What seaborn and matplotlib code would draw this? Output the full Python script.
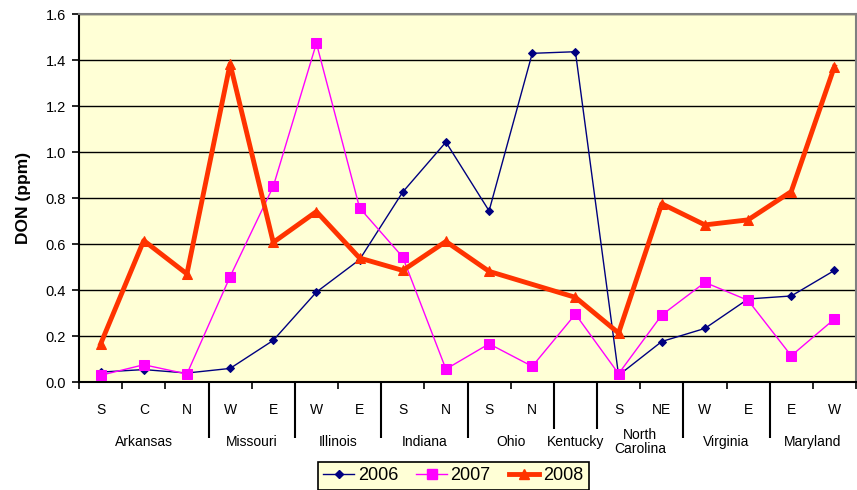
import numpy as np
import pandas as pd
import matplotlib
matplotlib.use("Agg")
import matplotlib.pyplot as plt
import matplotlib.transforms as mtransforms
import seaborn as sns

# ---- data ----
sites = ["S", "C", "N", "W", "E", "W", "E", "S", "N", "S", "N", "", "S", "NE", "W", "E", "E", "W"]
states = ["Arkansas", "Missouri", "Illinois", "Indiana", "Ohio", "Kentucky",
          "North\nCarolina", "Virginia", "Maryland"]
state_sizes = [3, 2, 2, 2, 2, 1, 2, 2, 2]
years = ["2006", "2007", "2008"]
don_2006 = [0.043, 0.054, 0.039, 0.059, 0.181, 0.391, 0.532, 0.826, 1.043, 0.744,
            1.429, 1.436, 0.029, 0.176, 0.233, 0.361, 0.374, 0.485]
don_2007 = [0.029, 0.075, 0.035, 0.458, 0.850, 1.473, 0.757, 0.543, 0.056, 0.166,
            0.068, 0.295, 0.036, 0.291, 0.433, 0.355, 0.114, 0.274]
don_2008 = [0.165, 0.615, 0.470, 1.383, 0.607, 0.741, 0.539, 0.485, 0.611, 0.481,
            np.nan, 0.368, 0.213, 0.775, 0.683, 0.705, 0.828, 1.371]
y_ticks = [0.0, 0.2, 0.4, 0.6, 0.8, 1.0, 1.2, 1.4, 1.6]

series = {"2006": don_2006, "2007": don_2007, "2008": don_2008}
frames = []
for yr in years:
    frames.append(pd.DataFrame({"pos": np.arange(len(sites)), "DON": series[yr], "year": yr}))
df = pd.concat(frames, ignore_index=True).dropna()

styles = {
    "2006": dict(color="#000080", marker="D", markersize=4.5, linewidth=1.0),
    "2007": dict(color="#FF00FF", marker="s", markersize=6.5, linewidth=1.0),
    "2008": dict(color="#FF3300", marker="^", markersize=7, linewidth=3.5),
}

plt.rcParams["font.family"] = ["Liberation Sans", "DejaVu Sans"]
fig = plt.figure(figsize=(8.57, 4.90), dpi=100)
ax = fig.add_axes([79 / 857, 1 - 382 / 490, (856 - 79) / 857, (382 - 14) / 490])
ax.set_facecolor("#FFFFD6")

for yr in years:
    st = styles[yr]
    sns.lineplot(data=df[df["year"] == yr], x="pos", y="DON", ax=ax, legend=False,
                 color=st["color"], marker=st["marker"], markersize=st["markersize"],
                 linewidth=st["linewidth"], markeredgecolor=st["color"],
                 markerfacecolor=st["color"], label=yr, zorder=3)

ax.set_xlim(-0.5, len(sites) - 0.5)
ax.set_ylim(0, 1.6)
ax.set_yticks(y_ticks)
ax.set_yticklabels([f"{v:.1f}" for v in y_ticks], fontsize=10.5)
ax.yaxis.grid(True, color="black", linewidth=1.0, zorder=1)
ax.xaxis.grid(False)
ax.set_axisbelow(True)
ax.tick_params(axis="y", direction="out", length=5, width=1.2, color="black", pad=4.5)

# site sub-labels
ax.set_xticks(np.arange(len(sites)))
ax.set_xticklabels(sites, fontsize=10)
ax.tick_params(axis="x", which="major", length=0, pad=15)
ax.set_xticks(np.arange(-0.5, len(sites), 1.0), minor=True)
ax.tick_params(axis="x", which="minor", direction="out", length=5, width=1.2, color="black")

ax.set_xlabel("")
ax.set_ylabel("DON (ppm)", fontsize=12.5, fontweight="bold", labelpad=10)

for side in ["left", "bottom"]:
    ax.spines[side].set_color("black")
    ax.spines[side].set_linewidth(1.5)
for side in ["top", "right"]:
    ax.spines[side].set_color("#808080")
    ax.spines[side].set_linewidth(1.5)

# group separators and state labels
trans = mtransforms.blended_transform_factory(ax.transData, ax.transAxes)
ax_h = 382 - 14
bounds = np.cumsum(state_sizes) - 0.5
start = -0.5
for i, (st_name, b) in enumerate(zip(states, bounds)):
    center = (start + b) / 2
    ax.text(center, -(442 - 382) / ax_h, st_name, transform=trans, ha="center",
            va="center", fontsize=10, linespacing=1.0)
    if b < len(sites) - 0.5:
        short = st_name == "Kentucky" or states[i + 1] == "Kentucky"
        low = -((429 if short else 438) - 382) / ax_h
        ax.plot([b, b], [0, low], transform=trans, color="black", linewidth=1.5,
                clip_on=False, solid_capstyle="butt")
    start = b

handles = [plt.Line2D([], [], **styles[yr]) for yr in years]
for h, yr in zip(handles, years):
    h.set_markeredgecolor(styles[yr]["color"])
leg = fig.legend(handles, years, loc="upper left",
                 bbox_to_anchor=(318 / 857, 1 - 462 / 490), ncol=3, fontsize=13,
                 frameon=True, fancybox=False, edgecolor="black",
                 facecolor="#FFFFD6", framealpha=1, handlelength=1.7,
                 handletextpad=0.2, columnspacing=1.0, borderpad=0.3,
                 borderaxespad=0)
leg.get_frame().set_linewidth(1.2)

fig.savefig("out.png", dpi=100, facecolor="white")
